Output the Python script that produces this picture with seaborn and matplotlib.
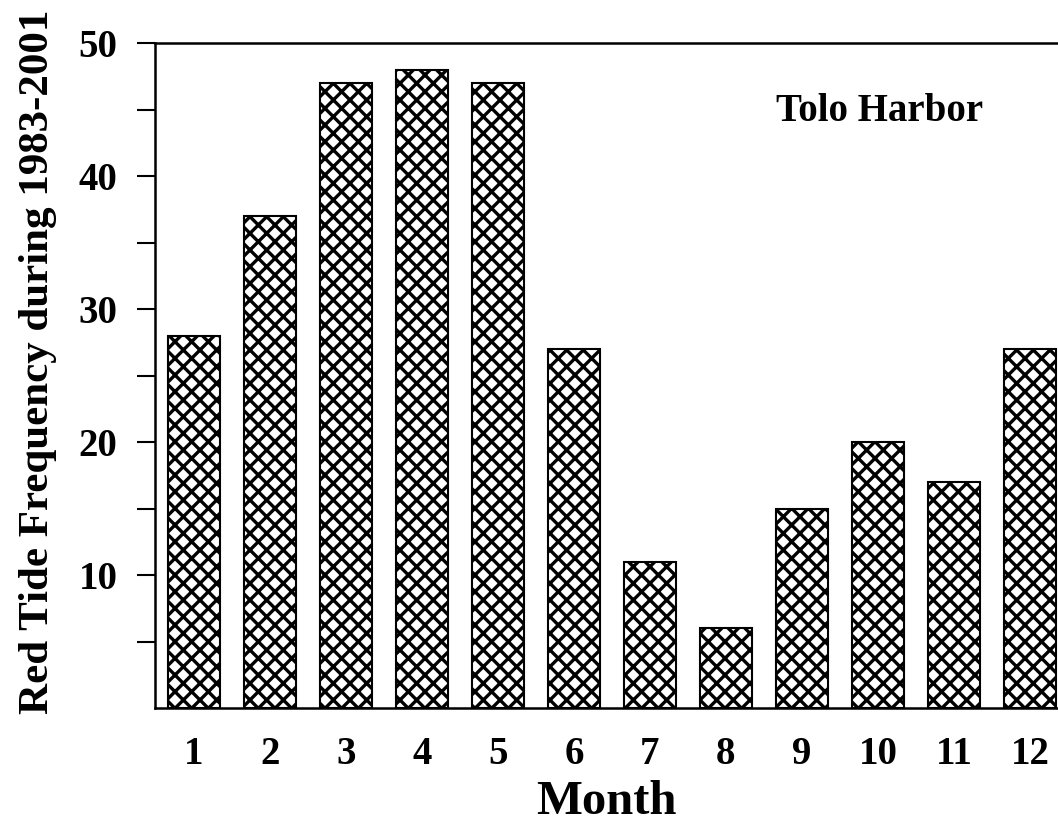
import numpy as np
import pandas as pd
import matplotlib
matplotlib.use("Agg")
import matplotlib.pyplot as plt
from matplotlib.ticker import FixedLocator
import seaborn as sns

months = ["1", "2", "3", "4", "5", "6", "7", "8", "9", "10", "11", "12"]
frequency = [28, 37, 47, 48, 47, 27, 11, 6, 15, 20, 17, 27]
major_ticks = [10, 20, 30, 40, 50]
minor_ticks = [5, 15, 25, 35, 45]
site_label = "Tolo Harbor"


def main():
    sns.set_style("white")
    plt.rcParams["font.family"] = ["Liberation Serif", "DejaVu Serif"]
    plt.rcParams["font.weight"] = "bold"
    plt.rcParams["text.color"] = "black"
    plt.rcParams["axes.labelcolor"] = "black"
    plt.rcParams["xtick.color"] = "black"
    plt.rcParams["ytick.color"] = "black"
    plt.rcParams["hatch.linewidth"] = 2.4

    df = pd.DataFrame({"Month": months, "Frequency": frequency})

    fig = plt.figure(figsize=(10.58, 8.32), dpi=100)
    ax = fig.add_axes([0.1465, 0.149, 0.8535, 0.7993])

    sns.barplot(data=df, x="Month", y="Frequency", color="white",
                edgecolor="black", linewidth=1.5, hatch="xx",
                width=0.68, ax=ax, errorbar=None)
    for p in ax.patches:
        p.set_facecolor("white")
        p.set_edgecolor("black")

    ax.set_xlim(-0.513, 11.37)
    ax.set_ylim(0, 50)
    ax.yaxis.set_major_locator(FixedLocator(major_ticks))
    ax.yaxis.set_minor_locator(FixedLocator(minor_ticks))
    ax.set_yticklabels([str(t) for t in major_ticks])

    ax.tick_params(axis="y", which="both", direction="out", length=13,
                   width=1.5, left=True, labelsize=28, pad=14)
    ax.tick_params(axis="x", length=0, labelsize=28, pad=20)
    for lab in ax.get_xticklabels() + ax.get_yticklabels():
        lab.set_fontweight("bold")

    for side in ["left", "top", "bottom"]:
        ax.spines[side].set_visible(True)
        ax.spines[side].set_linewidth(1.8)
        ax.spines[side].set_color("black")
    ax.spines["right"].set_visible(False)

    ax.set_xlabel("Month", fontsize=35, fontweight="bold", labelpad=5)
    ax.set_ylabel("Red Tide Frequency during 1983-2001", fontsize=31,
                  fontweight="bold")
    ax.yaxis.set_label_coords(-0.108, 0.52)

    ax.text(0.802, 0.897, site_label, transform=ax.transAxes, fontsize=28,
            fontweight="bold", ha="center", va="center")

    fig.savefig("out.png", dpi=100)


if __name__ == '__main__':
    main()
